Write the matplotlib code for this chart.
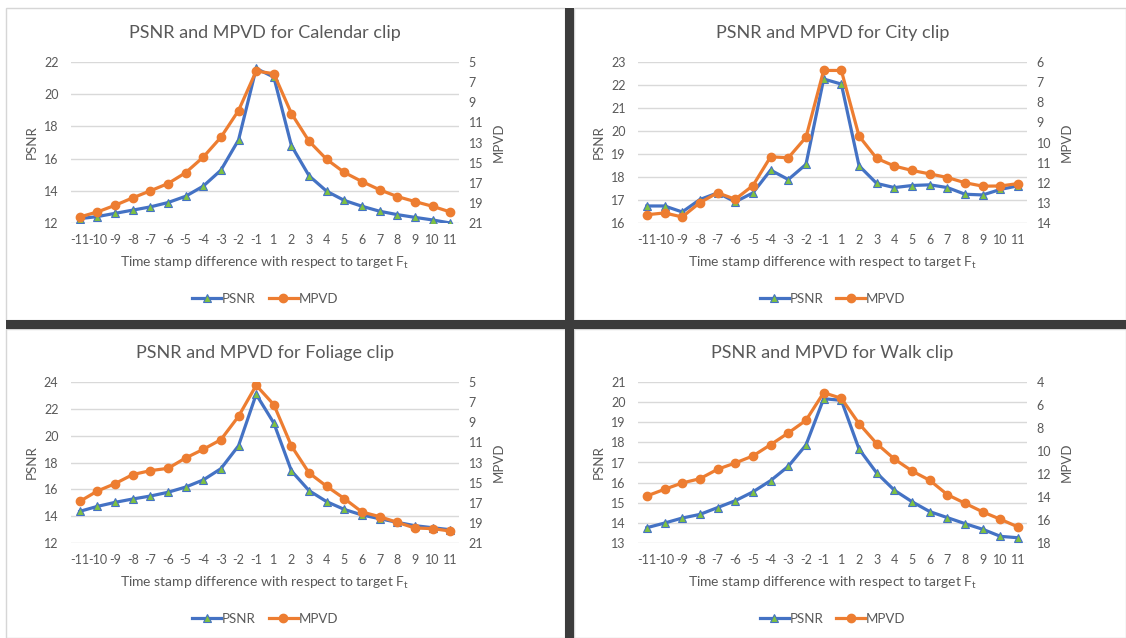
import numpy as np
import matplotlib
matplotlib.use("Agg")
import matplotlib.pyplot as plt
from matplotlib.patches import Rectangle

plt.rcParams['font.family'] = ['Lato', 'DejaVu Sans']

W, H = 1126, 638

BLUE = '#4472c4'
GREEN = '#7fc241'
ORANGE = '#ed7d31'
GREY_TXT = '#595959'
GRID = '#d9d9d9'
DARK = '#3c3c3c'

LABELS = ['-11', '-10', '-9', '-8', '-7', '-6', '-5', '-4', '-3', '-2', '-1',
          '1', '2', '3', '4', '5', '6', '7', '8', '9', '10', '11']

cal_psnr = [12.27, 12.4, 12.6, 12.8, 13.0, 13.27, 13.66, 14.29, 15.28, 17.16, 21.6,
            21.06, 16.8, 14.93, 13.97, 13.4, 13.04, 12.73, 12.52, 12.35, 12.19, 12.0]
cal_mpvd = [20.4, 19.9, 19.24, 18.5, 17.8, 17.08, 16.0, 14.45, 12.48, 9.82, 5.9,
            6.16, 10.12, 12.88, 14.68, 15.98, 16.88, 17.7, 18.37, 18.87, 19.34, 19.9]

city_psnr = [16.74, 16.74, 16.48, 17.02, 17.31, 16.92, 17.31, 18.3, 17.89, 18.55, 22.26,
             22.04, 18.49, 17.72, 17.54, 17.63, 17.66, 17.54, 17.25, 17.22, 17.46, 17.62]
city_mpvd = [13.59, 13.5, 13.7, 12.99, 12.5, 12.82, 12.14, 10.71, 10.76, 9.74, 6.42,
             6.42, 9.68, 10.79, 11.17, 11.39, 11.56, 11.74, 12.0, 12.17, 12.16, 12.04]

fol_psnr = [14.36, 14.73, 15.03, 15.28, 15.5, 15.78, 16.17, 16.7, 17.54, 19.25, 23.08,
            20.94, 17.37, 15.9, 15.08, 14.5, 14.09, 13.81, 13.54, 13.29, 13.14, 12.99]
fol_mpvd = [16.86, 15.83, 15.1, 14.2, 13.81, 13.58, 12.55, 11.69, 10.73, 8.41, 5.33,
            7.25, 11.36, 14.04, 15.37, 16.59, 17.92, 18.38, 18.95, 19.51, 19.57, 19.81]

walk_psnr = [13.76, 13.99, 14.24, 14.42, 14.76, 15.1, 15.54, 16.1, 16.81, 17.87, 20.17,
             20.09, 17.67, 16.48, 15.62, 15.05, 14.56, 14.26, 13.96, 13.68, 13.33, 13.26]
walk_mpvd = [13.91, 13.33, 12.78, 12.41, 11.59, 11.04, 10.43, 9.45, 8.43, 7.33, 4.93,
             5.42, 7.62, 9.36, 10.7, 11.74, 12.55, 13.8, 14.55, 15.3, 15.94, 16.61]


def px_rect(x0, y0, x1, y1):
    return [x0 / W, 1 - y1 / H, (x1 - x0) / W, (y1 - y0) / H]


def draw_panel(fig, rect, title, psnr, mpvd, plim, pstep, mlim, mstep):
    ax = fig.add_axes(rect)
    x = np.arange(len(LABELS))
    l1, = ax.plot(x, psnr, color=BLUE, lw=2.3, marker='^', ms=5.5,
                  mfc=GREEN, mec=BLUE, mew=0.8, label='PSNR')
    ax.set_xlim(-0.5, len(LABELS) - 0.5)
    ax.set_ylim(*plim)
    ax.set_yticks(np.arange(plim[0], plim[1] + 0.01, pstep))
    ax.set_xticks(x)
    ax.set_xticklabels(LABELS)
    ax.grid(axis='y', color=GRID, lw=1)
    ax.set_axisbelow(True)
    for s in ax.spines.values():
        s.set_visible(False)
    ax.tick_params(axis='both', length=0, labelsize=9, labelcolor=GREY_TXT)
    ax.tick_params(axis='y', pad=9)
    ax.tick_params(axis='x', pad=8)
    ax.set_ylabel('PSNR', fontsize=9.5, color=GREY_TXT)
    ax.yaxis.set_label_coords(-0.085, 0.5)
    ax.set_xlabel('Time stamp difference with respect to target F$_\\mathregular{t}$',
                  fontsize=10, color=GREY_TXT, labelpad=6)
    ax.set_title(title, fontsize=13, color=GREY_TXT, pad=17)

    ax2 = ax.twinx()
    l2, = ax2.plot(x, mpvd, color=ORANGE, lw=2.3, marker='o', ms=6,
                   mfc=ORANGE, mec=ORANGE, label='MPVD')
    ax2.set_ylim(mlim[1], mlim[0])
    ax2.set_yticks(np.arange(mlim[0], mlim[1] + 0.01, mstep))
    for s in ax2.spines.values():
        s.set_visible(False)
    ax2.tick_params(axis='y', length=0, labelsize=9, labelcolor=GREY_TXT, pad=7)
    ax2.set_ylabel('MPVD', fontsize=9.5, color=GREY_TXT)
    ax2.yaxis.set_label_coords(1.088, 0.5)

    ax.legend([l1, l2], ['PSNR', 'MPVD'], loc='center', bbox_to_anchor=(0.5, -0.47),
              ncol=2, frameon=False, fontsize=9.5, labelcolor=GREY_TXT,
              handlelength=2.2, handletextpad=0.05, columnspacing=1.0)
    return ax, ax2


fig = plt.figure(figsize=(W / 100, H / 100), dpi=100)
fig.patch.set_facecolor('white')

# light panel borders
for r in [(6, 8, 565, 320), (574, 8, 1126, 320), (6, 329, 565, 638), (574, 329, 1126, 638)]:
    fig.add_artist(Rectangle((r[0] / W, 1 - r[3] / H), (r[2] - r[0]) / W, (r[3] - r[1]) / H,
                             transform=fig.transFigure, fill=False, ec='#d6d6d6', lw=1))

draw_panel(fig, px_rect(71, 62, 459, 223), 'PSNR and MPVD for Calendar clip',
           cal_psnr, cal_mpvd, (12, 22), 2, (5, 21), 2)
draw_panel(fig, px_rect(638, 62, 1027, 223), 'PSNR and MPVD for City clip',
           city_psnr, city_mpvd, (16, 23), 1, (6, 14), 1)
draw_panel(fig, px_rect(71, 382, 459, 543), 'PSNR and MPVD for Foliage clip',
           fol_psnr, fol_mpvd, (12, 24), 2, (5, 21), 2)
draw_panel(fig, px_rect(638, 382, 1027, 543), 'PSNR and MPVD for Walk clip',
           walk_psnr, walk_mpvd, (13, 21), 1, (4, 18), 2)

# dark separators
fig.add_artist(Rectangle((565 / W, 0), 9 / W, 1 - 8 / H, transform=fig.transFigure,
                         fc=DARK, ec='none'))
fig.add_artist(Rectangle((6 / W, 1 - 329 / H), 1 - 6 / W, 9 / H, transform=fig.transFigure,
                         fc=DARK, ec='none'))

fig.savefig('out.png', dpi=100)
